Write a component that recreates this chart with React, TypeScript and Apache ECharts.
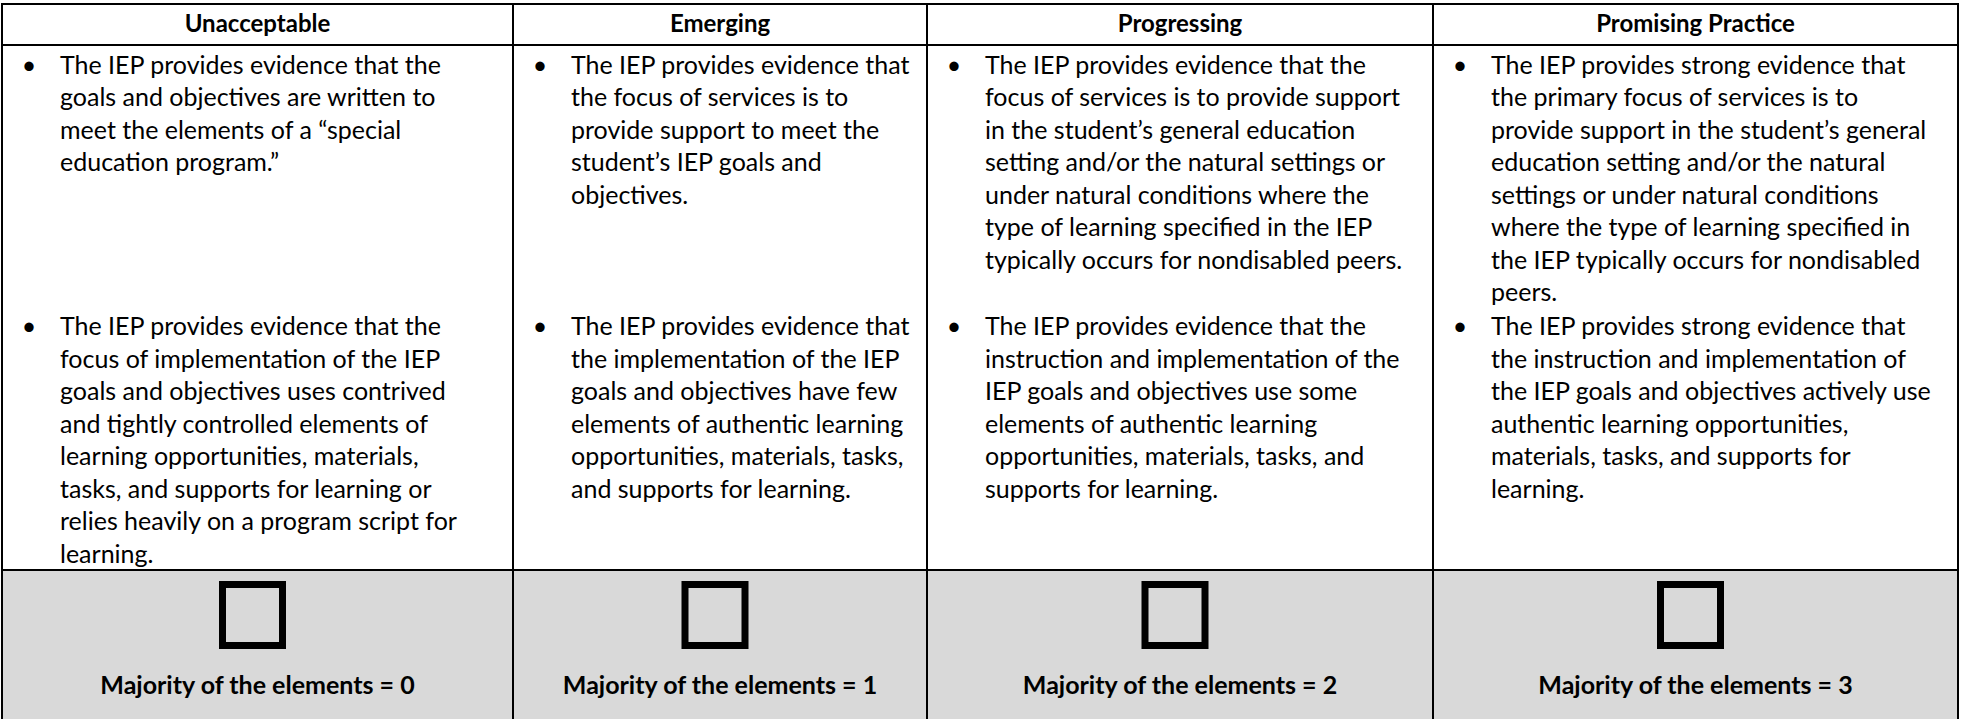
import React, { useEffect, useRef } from "react";
import * as echarts from "echarts";

// ---- data ----
const levels: string[] = ["Unacceptable", "Emerging", "Progressing", "Promising Practice"];

const firstBullets: string[][] = [
  [
    "The IEP provides evidence that the",
    "goals and objectives are written to",
    "meet the elements of a “special",
    "education program.”",
  ],
  [
    "The IEP provides evidence that",
    "the focus of services is to",
    "provide support to meet the",
    "student’s IEP goals and",
    "objectives.",
  ],
  [
    "The IEP provides evidence that the",
    "focus of services is to provide support",
    "in the student’s general education",
    "setting and/or the natural settings or",
    "under natural conditions where the",
    "type of learning specified in the IEP",
    "typically occurs for nondisabled peers.",
  ],
  [
    "The IEP provides strong evidence that",
    "the primary focus of services is to",
    "provide support in the student’s general",
    "education setting and/or the natural",
    "settings or under natural conditions",
    "where the type of learning specified in",
    "the IEP typically occurs for nondisabled",
    "peers.",
  ],
];

const secondBullets: string[][] = [
  [
    "The IEP provides evidence that the",
    "focus of implementation of the IEP",
    "goals and objectives uses contrived",
    "and tightly controlled elements of",
    "learning opportunities, materials,",
    "tasks, and supports for learning or",
    "relies heavily on a program script for",
    "learning.",
  ],
  [
    "The IEP provides evidence that",
    "the implementation of the IEP",
    "goals and objectives have few",
    "elements of authentic learning",
    "opportunities, materials, tasks,",
    "and supports for learning.",
  ],
  [
    "The IEP provides evidence that the",
    "instruction and implementation of the",
    "IEP goals and objectives use some",
    "elements of authentic learning",
    "opportunities, materials, tasks, and",
    "supports for learning.",
  ],
  [
    "The IEP provides strong evidence that",
    "the instruction and implementation of",
    "the IEP goals and objectives actively use",
    "authentic learning opportunities,",
    "materials, tasks, and supports for",
    "learning.",
  ],
];

const scores: number[] = [0, 1, 2, 3];
const scoreLabel = "Majority of the elements = ";

// ---- layout ----
const W = 1961;
const H = 719;
const COL_EDGES = [2, 513, 927, 1433, 1958];
const TOP = 4;
const HEADER_BOTTOM = 45;
const GRAY_TOP = 570;
const LINE_H = 32.5;
const GROUP1_TOP = 47.25;
const GROUP2_TOP = 308.75;
const FONT = "Lato, 'Noto Sans', sans-serif";
const BODY_SIZE = 25;
const HEAD_SIZE = 24;
const SCORE_SIZE = 25;

export default function App() {
  const ref = useRef<HTMLDivElement>(null);

  useEffect(() => {
    document.body.style.margin = "0";
    document.body.style.overflow = "hidden";
    const chart = echarts.init(ref.current!, null, { renderer: "svg" });

    const els: any[] = [];
    els.push({ type: "rect", silent: true, shape: { x: 0, y: 0, width: W, height: H }, style: { fill: "#ffffff" } });
    els.push({
      type: "rect",
      silent: true,
      shape: { x: COL_EDGES[0], y: GRAY_TOP, width: COL_EDGES[4] - COL_EDGES[0], height: H - GRAY_TOP },
      style: { fill: "#d9d9d9" },
    });

    levels.forEach((name, i) => {
      const x0 = COL_EDGES[i];
      const x1 = COL_EDGES[i + 1];
      const cx = (x0 + x1) / 2;
      els.push({
        type: "text",
        x: cx,
        y: 22,
        style: {
          text: name,
          fontFamily: FONT,
          fontSize: HEAD_SIZE,
          fontWeight: "bold",
          fill: "#000",
          align: "center",
          verticalAlign: "middle",
        },
      });
      [
        [firstBullets[i], GROUP1_TOP],
        [secondBullets[i], GROUP2_TOP],
      ].forEach(([lines, top]: any) => {
        els.push({
          type: "text",
          x: x0 + 27,
          y: top,
          style: {
            text: "•",
            fontFamily: FONT,
            fontSize: BODY_SIZE,
            lineHeight: LINE_H,
            fill: "#000",
            align: "center",
            verticalAlign: "top",
          },
        });
        els.push({
          type: "text",
          x: x0 + 58,
          y: top,
          style: {
            text: (lines as string[]).join("\n"),
            fontFamily: FONT,
            fontSize: BODY_SIZE,
            lineHeight: LINE_H,
            fill: "#000",
            align: "left",
            verticalAlign: "top",
          },
        });
      });
      // checkbox
      const bw = 67;
      const bh = 68;
      const sw = 7;
      const bx = cx - 5 - bw / 2;
      const by = 581;
      els.push({
        type: "rect",
        shape: { x: bx + sw / 2, y: by + sw / 2, width: bw - sw, height: bh - sw },
        style: { fill: "none", stroke: "#000", lineWidth: sw },
      });
      els.push({
        type: "text",
        x: cx,
        y: 684,
        style: {
          text: scoreLabel + scores[i],
          fontFamily: FONT,
          fontSize: SCORE_SIZE,
          fontWeight: "bold",
          fill: "#000",
          align: "center",
          verticalAlign: "middle",
        },
      });
    });

    // grid lines
    const ln = (x1: number, y1: number, x2: number, y2: number) => ({
      type: "line",
      silent: true,
      shape: { x1, y1, x2, y2 },
      style: { stroke: "#000", lineWidth: 2 },
    });
    els.push(ln(COL_EDGES[0] - 1, TOP, COL_EDGES[4] + 1, TOP));
    els.push(ln(COL_EDGES[0] - 1, HEADER_BOTTOM, COL_EDGES[4] + 1, HEADER_BOTTOM));
    els.push(ln(COL_EDGES[0] - 1, GRAY_TOP, COL_EDGES[4] + 1, GRAY_TOP));
    COL_EDGES.forEach((x) => els.push(ln(x, TOP - 1, x, H)));

    chart.setOption({ animation: false, graphic: { elements: els } });
    return () => chart.dispose();
  }, []);

  return <div ref={ref} style={{ width: W, height: H }} />;
}
